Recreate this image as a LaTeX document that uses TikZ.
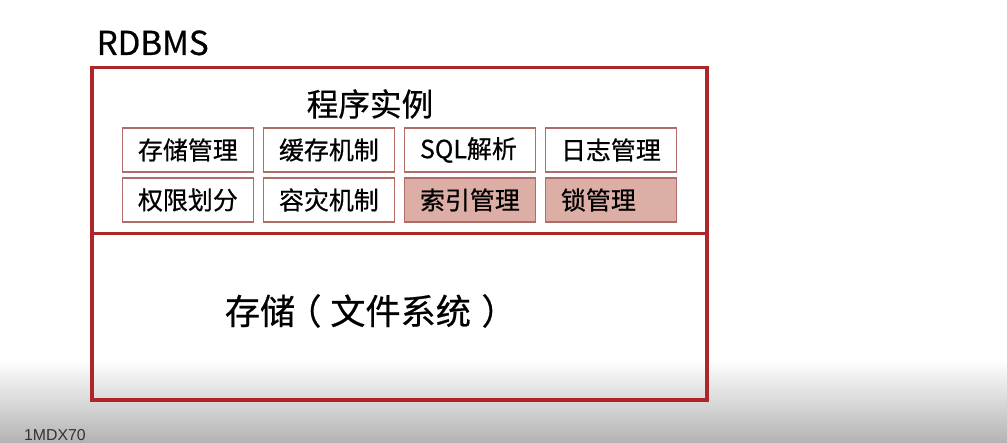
\documentclass[tikz,border=0pt]{standalone}
\usepackage{fontspec}
\setmainfont{Noto Sans CJK SC}[FakeBold=0.6]
\newfontfamily\tagfont{Liberation Sans}
\usetikzlibrary{positioning}
\definecolor{framered}{HTML}{AE262A}
\definecolor{cellline}{HTML}{B06C68}
\definecolor{cellfill}{HTML}{DCAEA5}

\begin{document}
\begin{tikzpicture}[x=1cm,y=1cm,
  part/.style={draw=framered, line width=1pt, minimum width=6.15cm, inner sep=0pt},
  cellbox/.style={draw=cellline, line width=0.5pt, minimum width=1.31cm, minimum height=0.44cm,
    inner sep=0pt, text width=1.0cm, align=left, font=\fontsize{7.1}{8}\selectfont},
  marked/.style={fill=cellfill}]
  \def\dx{1.41}   % column step
  \def\ra{2.93}   % row 1
  \def\rb{2.43}   % row 2
  \useasboundingbox (0,0) rectangle (10.07,4.43);
  % backdrop
  \shade[top color=white, bottom color=black!30] (0,0) rectangle (10.07,0.83);
  % the two parts
  \node[part, minimum height=1.66cm] (inst) at (3.995,2.925) {};
  \node[part, minimum height=1.665cm] (store) at (3.995,1.2625) {};
  \node[anchor=base west, inner sep=0pt, font=\fontsize{9.4}{10}\selectfont] (rdbms) at (0.96,3.88) {RDBMS};
  \node[font=\fontsize{9}{10}\selectfont] (insttitle) at (3.70,3.39) {程序实例};
  \node[font=\fontsize{10}{11}\selectfont] (storetitle) at (3.655,1.32)
    {存储\kern-0.25em（\kern0.25em 文件系统\kern0.3em）\kern-0.3em};
  % function cells
  \foreach \n/\i/\txt in {a/0/存储管理, b/1/缓存机制, c/2/SQL解析, d/3/日志管理} {
    \node[cellbox] (top\n) at (1.88+\i*\dx,\ra) {\txt};
  }
  \foreach \n/\i/\txt in {a/0/权限划分, b/1/容灾机制} {
    \node[cellbox] (bot\n) at (1.88+\i*\dx,\rb) {\txt};
  }
  \foreach \n/\i/\txt in {c/2/索引管理, d/3/锁管理} {
    \node[cellbox, marked] (bot\n) at (1.88+\i*\dx,\rb) {\txt};
  }
  \node[anchor=base west, inner sep=0pt, text=black!80, font=\tagfont\fontsize{4.5}{5}\selectfont] (tag) at (0.235,0.025) {1MDX70};
\end{tikzpicture}
\end{document}
